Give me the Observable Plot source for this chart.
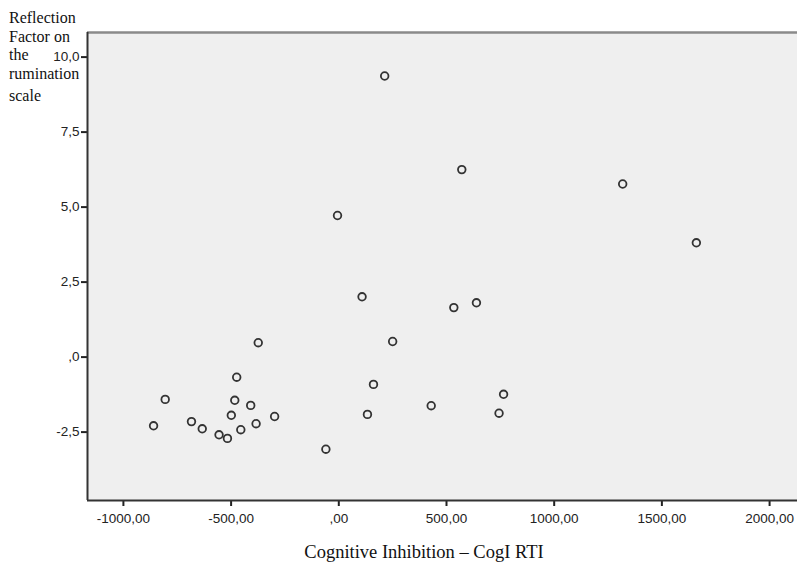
<!DOCTYPE html>
<html>
<head>
<meta charset="utf-8">
<script src="https://cdn.jsdelivr.net/npm/d3@7"></script>
<script src="https://cdn.jsdelivr.net/npm/@observablehq/plot@0.6"></script>
<style>
  html, body { margin: 0; padding: 0; background: #fff; }
  #wrap { position: relative; width: 797px; height: 564px; }
  #ytitle { position: absolute; left: 9px; top: 9px; font-family: "Liberation Serif", serif; font-size: 16px; line-height: 18.7px; color: #111; }
  #xtitle { position: absolute; left: 87px; width: 674px; top: 542px; text-align: center; font-family: "Liberation Serif", serif; font-size: 18.5px; color: #111; white-space: nowrap; }
</style>
</head>
<body>
<div id="wrap">
  <div id="chart"></div>
  <div id="ytitle">Reflection<br>Factor on<br>the<br>rumination<br><span style="display:inline-block;margin-top:3px">scale</span></div>
  <div id="xtitle">Cognitive Inhibition – CogI RTI</div>
</div>
<script>
const cogInhibition = [213, -6, 571, 1318, 1660, 108, 534, 639, 250, 429, 765, 744, -374, -474, 161, -806, -483, -409, -499, -298, 133, -860, -684, -634, -384, -455, -556, -517, -60];
const reflection = [9.37, 4.72, 6.25, 5.77, 3.81, 2.01, 1.65, 1.81, 0.52, -1.62, -1.24, -1.87, 0.48, -0.67, -0.91, -1.41, -1.44, -1.61, -1.94, -1.98, -1.91, -2.29, -2.15, -2.39, -2.22, -2.42, -2.59, -2.71, -3.07];
const xTicks = [-1000, -500, 0, 500, 1000, 1500, 2000];
const yTicks = [-2.5, 0, 2.5, 5, 7.5, 10];
const xDomain = [-1166.7, 2129.6];
const yDomain = [-4.78, 10.82];

const data = cogInhibition.map((x, i) => ({x, y: reflection[i]}));

function commaFmt(v, digits) {
  let s = Math.abs(v).toFixed(digits).replace(".", ",");
  if (s.startsWith("0,")) s = s.slice(1);
  return (v < 0 ? "-" : "") + s;
}

const chart = Plot.plot({
  width: 797,
  height: 564,
  marginLeft: 87,
  marginRight: 0,
  marginTop: 32,
  marginBottom: 64,
  style: { fontFamily: "'Liberation Sans', Arial, sans-serif", fontSize: "13.5px", color: "#222", background: "#fff" },
  x: { domain: xDomain, label: null },
  y: { domain: yDomain, label: null },
  marks: [
    Plot.frame({ fill: "#efefef", stroke: null }),
    Plot.ruleY([yDomain[1]], { stroke: "#8a8a8a", strokeWidth: 2.5 }),
    Plot.axisX({ ticks: xTicks, tickFormat: d => commaFmt(d, 2), tickSize: 6, tickPadding: 7, stroke: "#222", strokeWidth: 2, fontSize: 13.5, label: null }),
    Plot.axisY({ ticks: yTicks, tickFormat: d => commaFmt(d, 1), tickSize: 6, tickPadding: 2, stroke: "#222", strokeWidth: 2, fontSize: 13.5, label: null }),
    Plot.ruleX([xDomain[0]], { stroke: "#333", strokeWidth: 2 }),
    Plot.ruleY([yDomain[0]], { stroke: "#333", strokeWidth: 2 }),
    Plot.dot(data, { x: "x", y: "y", r: 3.8, stroke: "#333", strokeWidth: 1.8, fill: "none" })
  ]
});
document.getElementById("chart").appendChild(chart);
</script>
</body>
</html>
